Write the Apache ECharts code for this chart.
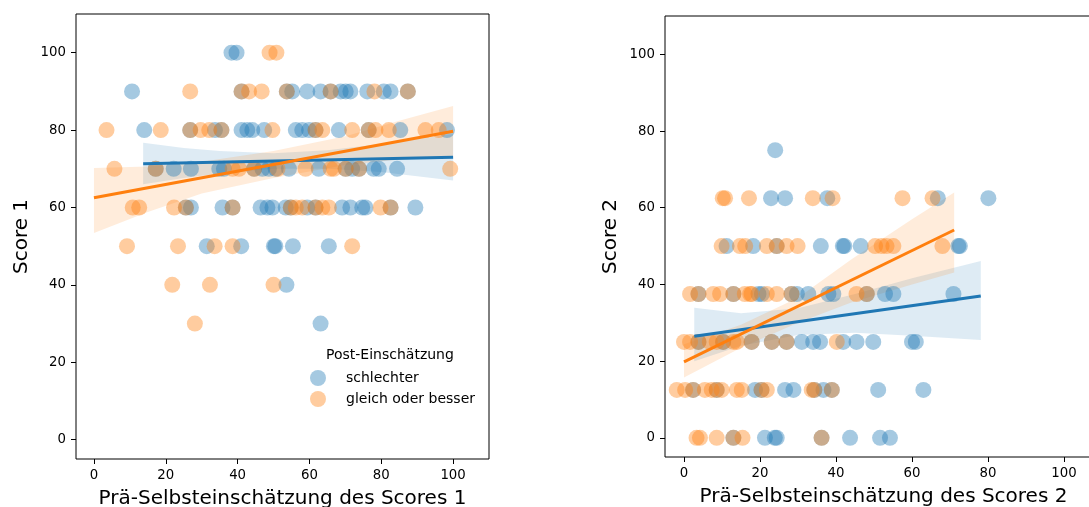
<!DOCTYPE html>
<html>
<head>
<meta charset="utf-8">
<script src="https://cdn.jsdelivr.net/npm/echarts@6/dist/echarts.min.js"></script>
<style>
  html, body { margin: 0; padding: 0; background: #fff; }
  #chart { width: 1089px; height: 507px; }
</style>
</head>
<body>
<div id="chart"></div>
<script>
// Tick positions shared by both panels
const tickValues = [0, 20, 40, 60, 80, 100];

// Panel 1: Score 1 vs. pre self-assessment, [x, y] pairs
const score1Schlechter = [
  [38.3,100],[39.7,100],
  [10.6,90],[41.1,90],[53.7,90],[55.2,90],[59.4,90],[63.1,90],[65.9,90],[68.7,90],[70.1,90],[71.4,90],[76.1,90],[80.7,90],[82.6,90],[87.4,90],
  [14,80],[26.8,80],[33.7,80],[35.5,80],[41.1,80],[42.7,80],[44.1,80],[47.4,80],[56.2,80],[58,80],[59.9,80],[61.7,80],[68.2,80],[76.5,80],[85.3,80],[98.3,80],
  [17.2,70],[22.2,70],[27,70],[34.9,70],[36.2,70],[44.6,70],[46.9,70],[48.7,70],[50.6,70],[54.3,70],[62.6,70],[70.1,70],[71.9,70],[73.8,70],[77.9,70],[79.3,70],[84.4,70],
  [25.6,60],[27,60],[35.8,60],[38.6,60],[46.4,60],[48.3,60],[49.7,60],[53.4,60],[54.8,60],[59.4,60],[61.7,60],[69.1,60],[71.4,60],[74.7,60],[75.6,60],[82.6,60],[89.5,60],
  [31.4,50],[41,50],[50.1,50],[50.5,50],[55.4,50],[65.4,50],
  [53.6,40],
  [63.1,30]
];
const score1Besser = [
  [48.9,100],[50.8,100],
  [26.8,90],[41.1,90],[43.2,90],[46.7,90],[53.7,90],[65.9,90],[78.1,90],[87.4,90],
  [3.5,80],[18.6,80],[26.8,80],[29.7,80],[32.1,80],[35.5,80],[49.7,80],[61.7,80],[63.6,80],[71.9,80],[76.5,80],[78.4,80],[82.1,80],[92.3,80],[96,80],
  [5.7,70],[17.2,70],[38.6,70],[40.4,70],[44.6,70],[51.1,70],[58.9,70],[65.9,70],[66.8,70],[70.1,70],[73.8,70],[99.2,70],
  [10.8,60],[12.6,60],[22.3,60],[25.6,60],[38.6,60],[54.8,60],[56.2,60],[58,60],[61.7,60],[63.6,60],[65.4,60],[79.8,60],[82.6,60],
  [9.2,50],[23.4,50],[33.6,50],[38.6,50],[71.9,50],
  [21.8,40],[32.3,40],[50,40],
  [28.1,30]
];

// Panel 2: Score 2 vs. pre self-assessment, [x, y] pairs
const score2Schlechter = [
  [24,75],
  [22.9,62.5],[26.6,62.5],[37.7,62.5],[66.8,62.5],[80.1,62.5],
  [11.2,50],[18.2,50],[24.4,50],[36,50],[41.8,50],[42.2,50],[46.5,50],[72.2,50],[72.6,50],
  [3.8,37.5],[13,37.5],[19.6,37.5],[20.5,37.5],[28.3,37.5],[29.7,37.5],[32.7,37.5],[38,37.5],[39.3,37.5],[48.1,37.5],[52.9,37.5],[55.1,37.5],[70.9,37.5],
  [3.8,25],[10.3,25],[17.8,25],[23.1,25],[27,25],[31,25],[34,25],[35.8,25],[41.9,25],[45.4,25],[49.8,25],[60,25],[61,25],
  [2.4,12.5],[8.6,12.5],[18.7,12.5],[20.4,12.5],[26.6,12.5],[28.8,12.5],[34.3,12.5],[36.7,12.5],[38.9,12.5],[51.1,12.5],[63,12.5],
  [13,0],[21.3,0],[23.9,0],[24.4,0],[36.2,0],[43.7,0],[51.6,0],[54.2,0]
];
const score2Besser = [
  [10.2,62.5],[10.8,62.5],[17.1,62.5],[33.9,62.5],[39.1,62.5],[57.5,62.5],[65.4,62.5],
  [9.9,50],[14.7,50],[16.1,50],[21.8,50],[24.4,50],[27,50],[29.9,50],[50.3,50],[52,50],[53.3,50],[55.1,50],[68,50],
  [1.6,37.5],[3.8,37.5],[7.7,37.5],[9.5,37.5],[13,37.5],[16,37.5],[17.4,37.5],[17.8,37.5],[21.8,37.5],[24.4,37.5],[28.3,37.5],[45.4,37.5],[48.1,37.5],
  [0,25],[1.6,25],[3.8,25],[6.8,25],[8.6,25],[10.3,25],[13,25],[13.9,25],[17.8,25],[23.1,25],[27,25],[40.2,25],
  [-1.9,12.5],[0.3,12.5],[2.4,12.5],[5.5,12.5],[7.3,12.5],[8.6,12.5],[9.9,12.5],[13.9,12.5],[15.2,12.5],[20.4,12.5],[21.8,12.5],[33.6,12.5],[34.3,12.5],[38.9,12.5],
  [3.3,0],[4.2,0],[8.6,0],[13,0],[15.4,0],[36.2,0]
];

// Fitted regression lines (start and end points)
const fit1Schlechter = [[13.7, 71.3], [100, 73.0]];
const fit1Besser = [[0, 62.5], [100, 79.7]];
const fit2Schlechter = [[2.7, 26.5], [78.1, 37.0]];
const fit2Besser = [[0, 19.8], [71.1, 54.2]];

// Confidence bands: [x, lower, upper]
const band1Schlechter = [[13.7,66.0,76.7],[25,67.6,75.4],[35,68.8,74.6],[50,70.0,74.0],[65,70.0,74.8],[80,69.2,76.4],[100,67.0,79.0]];
const band1Besser = [[0,53.4,70.2],[15,58.8,70.6],[30,63.6,71.8],[50,67.6,74.6],[70,71.0,78.4],[85,72.4,82.4],[100,73.0,86.2]];
const band2Schlechter = [[2.7,20.0,33.9],[15,24.0,32.5],[30,26.8,33.8],[45,27.4,37.5],[60,26.6,41.6],[78.1,25.5,46.1]];
const band2Besser = [[0,15.7,24.4],[15,23.5,29.5],[30,30.0,36.5],[44,35.3,46.5],[60,40.0,57.0],[71.1,43.1,64.0]];

const BLUE = '#1f77b4';
const ORANGE = '#ff7f0e';
const BLUE_PT = 'rgba(31,119,180,0.4)';
const ORANGE_PT = 'rgba(255,127,14,0.4)';
const BLUE_BAND = 'rgba(31,119,180,0.15)';
const ORANGE_BAND = 'rgba(255,127,14,0.15)';
const FONT = 'DejaVu Sans';

function xAxisFor(gridIndex, name) {
  return {
    type: 'value', gridIndex, min: -5, max: 110,
    name, nameLocation: 'middle', nameGap: 30,
    nameTextStyle: { fontSize: 20, color: '#000', fontFamily: FONT },
    axisLine: { show: false, onZero: false },
    axisTick: { show: true, length: 5, customValues: tickValues, lineStyle: { color: '#000', width: 1 } },
    axisLabel: { customValues: tickValues, fontSize: 13.3, color: '#000', margin: 10, fontFamily: FONT },
    splitLine: { show: false }
  };
}
function yAxisFor(gridIndex, name) {
  return {
    type: 'value', gridIndex, min: -5, max: 110,
    name, nameLocation: 'middle', nameGap: 44,
    nameTextStyle: { fontSize: 20, color: '#000', fontFamily: FONT },
    axisLine: { show: false, onZero: false },
    axisTick: { show: true, length: 5, customValues: tickValues, lineStyle: { color: '#000', width: 1 } },
    axisLabel: { customValues: tickValues, fontSize: 13.3, color: '#000', margin: 10, fontFamily: FONT },
    splitLine: { show: false }
  };
}

function scatter(name, data, idx, color) {
  return {
    type: 'scatter', name, data, xAxisIndex: idx, yAxisIndex: idx,
    symbol: 'circle', symbolSize: 16, z: 2,
    itemStyle: { color, opacity: 1, borderWidth: 0 },
    emphasis: { disabled: true }
  };
}
function band(points, idx, color) {
  return {
    type: 'custom', xAxisIndex: idx, yAxisIndex: idx, z: 2, silent: true,
    data: [[points[0][0], points[0][1]]],
    renderItem: function (params, api) {
      const upper = points.map(p => api.coord([p[0], p[2]]));
      const lower = points.slice().reverse().map(p => api.coord([p[0], p[1]]));
      return { type: 'polygon', shape: { points: upper.concat(lower) }, style: { fill: color } };
    }
  };
}
function fitLine(data, idx, color) {
  return {
    type: 'line', data, xAxisIndex: idx, yAxisIndex: idx, z: 5,
    showSymbol: false, silent: true,
    lineStyle: { color, width: 3 }
  };
}

const chart = echarts.init(document.getElementById('chart'), null, { renderer: 'canvas' });
chart.setOption({
  animation: false,
  backgroundColor: '#fff',
  textStyle: { fontFamily: FONT },
  grid: [
    { left: 76, top: 14, width: 413, height: 445, outerBoundsMode: 'none', containLabel: false,
      show: true, borderColor: '#000', borderWidth: 1, backgroundColor: 'transparent' },
    { left: 665, top: 16, width: 437, height: 441, outerBoundsMode: 'none', containLabel: false,
      show: true, borderColor: '#000', borderWidth: 1, backgroundColor: 'transparent' }
  ],
  xAxis: [xAxisFor(0, 'Prä-Selbsteinschätzung des Scores 1'), xAxisFor(1, 'Prä-Selbsteinschätzung des Scores 2')],
  yAxis: [yAxisFor(0, 'Score 1'), yAxisFor(1, 'Score 2')],
  legend: {
    orient: 'vertical', left: 310, top: 370, padding: 0,
    itemWidth: 16, itemHeight: 16, itemGap: 5,
    selectedMode: false,
    data: ['schlechter', 'gleich oder besser'],
    textStyle: { fontSize: 14, color: '#000', fontFamily: FONT, padding: [0, 0, 0, 15] }
  },
  graphic: [
    { type: 'text', left: 326, top: 348, style: { text: 'Post-Einschätzung', font: '14px "DejaVu Sans"', fill: '#000' } }
  ],
  series: [
    scatter('schlechter', score1Schlechter, 0, BLUE_PT),
    band(band1Schlechter, 0, BLUE_BAND),
    scatter('gleich oder besser', score1Besser, 0, ORANGE_PT),
    band(band1Besser, 0, ORANGE_BAND),
    fitLine(fit1Schlechter, 0, BLUE),
    fitLine(fit1Besser, 0, ORANGE),
    scatter('schlechter', score2Schlechter, 1, BLUE_PT),
    band(band2Schlechter, 1, BLUE_BAND),
    scatter('gleich oder besser', score2Besser, 1, ORANGE_PT),
    band(band2Besser, 1, ORANGE_BAND),
    fitLine(fit2Schlechter, 1, BLUE),
    fitLine(fit2Besser, 1, ORANGE)
  ]
});
</script>
</body>
</html>
